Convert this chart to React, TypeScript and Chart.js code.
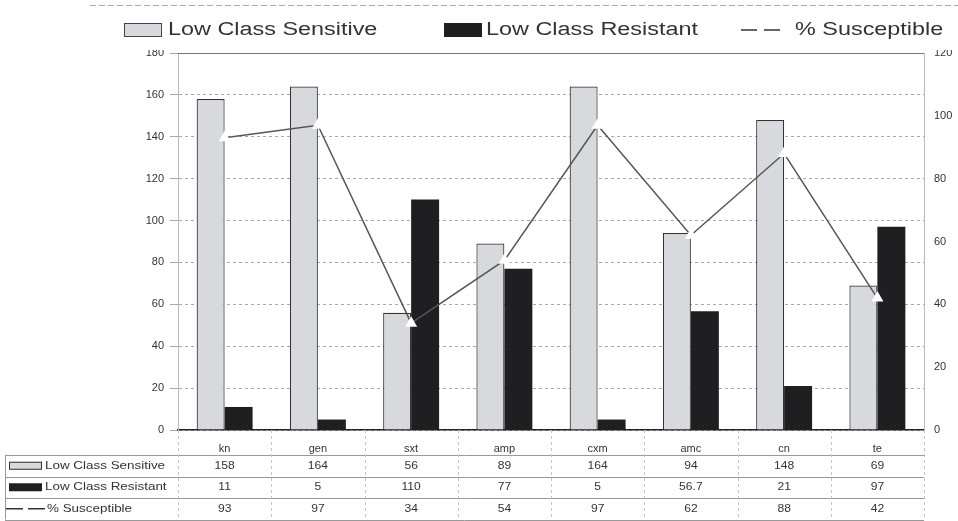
import { useEffect, useRef } from "react";
import { Chart, registerables } from "chart.js";

Chart.register(...registerables);

const categories = ["kn", "gen", "sxt", "amp", "cxm", "amc", "cn", "te"];
const lowClassSensitive = [158, 164, 56, 89, 164, 94, 148, 69];
const lowClassResistant = [11, 5, 110, 77, 5, 56.7, 21, 97];
const pctSusceptible = [93, 97, 34, 54, 97, 62, 88, 42];
const seriesNames = ["Low Class Sensitive", "Low Class Resistant", "% Susceptible"];

const FONT = "'Liberation Sans', Arial, sans-serif";
const TEXT = "#333";
const LIGHT_FILL = "#d7d9dd";
const DARK_FILL = "#1f1f22";

// Text drawn with a horizontal stretch factor (sx).
function wideText(
  ctx: CanvasRenderingContext2D,
  text: string,
  x: number,
  y: number,
  sx: number,
  align: CanvasTextAlign = "left"
) {
  ctx.save();
  ctx.translate(x, y);
  ctx.scale(sx, 1);
  ctx.textAlign = align;
  ctx.fillText(text, 0, 0);
  ctx.restore();
}

// Draws the legend strip across the top and the data table under the x axis.
const legendAndTable = {
  id: "legendAndTable",
  afterDraw(chart: any) {
    const ctx = chart.ctx as CanvasRenderingContext2D;
    const area = chart.chartArea;
    const xs = chart.scales.x;
    ctx.save();

    // legend strip
    ctx.fillStyle = "#fff";
    ctx.fillRect(90, 6, 868, 44);
    ctx.strokeStyle = "#aaa";
    ctx.lineWidth = 1;
    ctx.setLineDash([6, 3]);
    ctx.beginPath();
    ctx.moveTo(90, 5.5);
    ctx.lineTo(958, 5.5);
    ctx.stroke();
    ctx.setLineDash([]);

    ctx.font = `18px ${FONT}`;
    ctx.textBaseline = "middle";
    const ly = 30;
    const legendStretch = 1.3;
    ctx.fillStyle = LIGHT_FILL;
    ctx.fillRect(124, ly - 7, 38, 14);
    ctx.strokeStyle = "#444";
    ctx.strokeRect(124.5, ly - 6.5, 37, 13);
    ctx.fillStyle = TEXT;
    wideText(ctx, seriesNames[0], 168, ly, legendStretch);

    ctx.fillStyle = DARK_FILL;
    ctx.fillRect(444, ly - 7, 38, 14);
    ctx.fillStyle = TEXT;
    wideText(ctx, seriesNames[1], 486, ly, legendStretch);

    ctx.strokeStyle = "#333";
    ctx.lineWidth = 1.5;
    ctx.beginPath();
    ctx.moveTo(741, ly);
    ctx.lineTo(757, ly);
    ctx.moveTo(764, ly);
    ctx.lineTo(780, ly);
    ctx.stroke();
    wideText(ctx, seriesNames[2], 795, ly, legendStretch);

    // data table
    const rowH = 21.5;
    const top = area.bottom + 25;
    const left = 5;
    const right = area.right;
    const catW = (area.right - area.left) / categories.length;

    ctx.lineWidth = 1;
    ctx.strokeStyle = "#999";
    for (let r = 0; r <= 3; r++) {
      const y = Math.round(top + r * rowH) + 0.5;
      ctx.beginPath();
      ctx.moveTo(left, y);
      ctx.lineTo(right, y);
      ctx.stroke();
    }
    ctx.beginPath();
    ctx.moveTo(left + 0.5, top);
    ctx.lineTo(left + 0.5, top + 3 * rowH);
    ctx.stroke();

    ctx.strokeStyle = "#c4c4c4";
    ctx.setLineDash([3, 3]);
    for (let i = 0; i <= categories.length; i++) {
      const x = Math.round(area.left + i * catW) + 0.5;
      ctx.beginPath();
      ctx.moveTo(x, area.bottom);
      ctx.lineTo(x, top + 3 * rowH);
      ctx.stroke();
    }
    ctx.setLineDash([]);

    const rows = [lowClassSensitive, lowClassResistant, pctSusceptible];
    ctx.font = `11px ${FONT}`;
    ctx.fillStyle = TEXT;
    rows.forEach((vals, r) => {
      const cy = top + r * rowH + rowH / 2;
      vals.forEach((v, i) => {
        wideText(ctx, String(v), xs.getPixelForValue(i), cy, 1.1, "center");
      });
    });

    // row keys and names
    const keyX = 9;
    const keyW = 33;
    const rowStretch = 1.22;
    let cy = top + rowH / 2;
    ctx.fillStyle = LIGHT_FILL;
    ctx.fillRect(keyX, cy - 4, keyW, 8);
    ctx.strokeStyle = "#333";
    ctx.strokeRect(keyX + 0.5, cy - 3.5, keyW - 1, 7);
    ctx.fillStyle = TEXT;
    wideText(ctx, seriesNames[0], 45, cy, rowStretch);

    cy = top + rowH * 1.5;
    ctx.fillStyle = DARK_FILL;
    ctx.fillRect(keyX, cy - 4, keyW, 8);
    ctx.fillStyle = TEXT;
    wideText(ctx, seriesNames[1], 45, cy, rowStretch);

    cy = top + rowH * 2.5;
    ctx.strokeStyle = "#333";
    ctx.lineWidth = 1.5;
    ctx.beginPath();
    ctx.moveTo(keyX - 3, cy);
    ctx.lineTo(keyX + 14, cy);
    ctx.moveTo(keyX + 19, cy);
    ctx.lineTo(keyX + 36, cy);
    ctx.stroke();
    wideText(ctx, seriesNames[2], 47, cy, rowStretch);

    ctx.restore();
  },
};

export default function App() {
  const ref = useRef<HTMLCanvasElement>(null);

  useEffect(() => {
    const canvas = ref.current;
    if (!canvas) return;
    const tickFont = { family: FONT, size: 11 };
    const chart = new Chart(canvas, {
      type: "bar",
      data: {
        labels: categories,
        datasets: [
          {
            type: "line",
            label: seriesNames[2],
            data: pctSusceptible,
            yAxisID: "y1",
            borderColor: "#555",
            borderWidth: 1.5,
            pointStyle: "triangle",
            pointRadius: 7,
            pointBackgroundColor: "#fff",
            pointBorderColor: "#fff",
            pointBorderWidth: 0,
            order: 0,
          } as any,
          {
            label: seriesNames[0],
            data: lowClassSensitive,
            backgroundColor: LIGHT_FILL,
            borderColor: "#333",
            borderWidth: 1.2,
            yAxisID: "y",
            categoryPercentage: 0.6,
            barPercentage: 1,
            order: 1,
          },
          {
            label: seriesNames[1],
            data: lowClassResistant,
            backgroundColor: DARK_FILL,
            borderColor: DARK_FILL,
            borderWidth: 0,
            yAxisID: "y",
            categoryPercentage: 0.6,
            barPercentage: 1,
            order: 1,
          },
        ],
      },
      options: {
        animation: false,
        responsive: false,
        maintainAspectRatio: false,
        layout: { padding: { top: 53, bottom: 67, left: 0, right: 0 } },
        plugins: {
          legend: { display: false },
          tooltip: { enabled: false },
        },
        scales: {
          x: {
            grid: { display: false },
            border: { color: "#222", width: 1.5 },
            ticks: { font: tickFont, color: TEXT, padding: 4 },
            afterFit: (s: any) => {
              s.height = 24;
            },
          },
          y: {
            position: "left",
            min: 0,
            max: 180,
            ticks: { stepSize: 20, font: tickFont, color: TEXT, padding: 6 },
            grid: { color: "#a8a8a8", tickLength: 8, drawTicks: true },
            border: { color: "#bbb", dash: [3, 3] },
            afterFit: (s: any) => {
              s.width = 178;
            },
          },
          y1: {
            position: "right",
            min: 0,
            max: 120,
            ticks: { stepSize: 20, font: tickFont, color: TEXT, padding: 10 },
            grid: { display: false, drawTicks: false },
            border: { color: "#bbb", dash: [3, 3] },
            afterFit: (s: any) => {
              s.width = 34;
            },
          },
        },
      },
      plugins: [
        {
          id: "plotFrame",
          beforeDatasetsDraw(c: any) {
            const ctx = c.ctx as CanvasRenderingContext2D;
            const a = c.chartArea;
            ctx.save();
            ctx.strokeStyle = "#777";
            ctx.lineWidth = 1;
            ctx.beginPath();
            ctx.moveTo(a.left, Math.round(a.top) + 0.5);
            ctx.lineTo(a.right, Math.round(a.top) + 0.5);
            ctx.stroke();
            ctx.restore();
          },
        },
        legendAndTable,
      ],
    });
    return () => chart.destroy();
  }, []);

  return (
    <div style={{ position: "absolute", left: 0, top: 0, width: 958, height: 521, background: "#fff" }}>
      <canvas ref={ref} width={958} height={521} style={{ display: "block" }} />
    </div>
  );
}
